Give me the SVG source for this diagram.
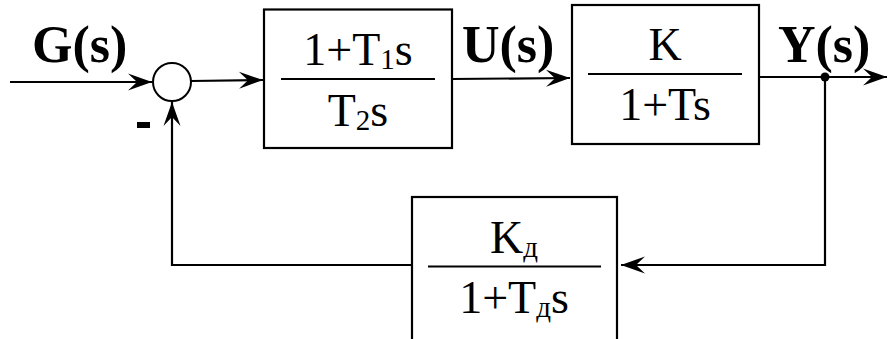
<svg xmlns="http://www.w3.org/2000/svg" width="889" height="339" viewBox="0 0 889 339">
<style>
.ln{stroke:#000;stroke-width:2.2;fill:none}
.box{stroke:#000;stroke-width:2.2;fill:#fff}
.t{font-family:"Liberation Serif","Times New Roman",serif;font-size:46px;fill:#000}
.sub{font-size:29px}
.b{font-family:"Liberation Serif","Times New Roman",serif;font-size:52px;font-weight:bold;fill:#000}
</style>
<defs>
<marker id="ah" markerUnits="userSpaceOnUse" markerWidth="30" markerHeight="20" viewBox="-26 -10 30 20" refX="0" refY="0" orient="auto">
<path d="M0,0 L-24,-8.5 L-15,0 L-24,8.5 Z" fill="#000"/>
</marker>
</defs>
<g id="connectors">
<line class="ln" x1="10" y1="82" x2="152" y2="82" marker-end="url(#ah)"/>
<line class="ln" x1="191" y1="81" x2="263" y2="80" marker-end="url(#ah)"/>
<line class="ln" x1="452" y1="79" x2="570" y2="78" marker-end="url(#ah)"/>
<line class="ln" x1="759" y1="77" x2="887" y2="77" marker-end="url(#ah)"/>
<polyline class="ln" points="825,77 825,265 621,265" marker-end="url(#ah)"/>
<polyline class="ln" points="412,265 172,265 172,102" marker-end="url(#ah)"/>
<circle cx="825" cy="77" r="4.5" fill="#000"/>
</g>
<g id="sum">
<circle cx="172" cy="82" r="19" fill="#fff" stroke="#000" stroke-width="2"/>
<rect x="137" y="122" width="13" height="6" fill="#000"/>
</g>
<g id="labels">
<text class="b" x="32" y="62">G(s)</text>
<text class="b" x="462" y="62">U(s)</text>
<text class="b" x="778" y="62">Y(s)</text>
</g>
<g id="block1">
<rect class="box" x="264" y="9.5" width="188" height="138.5"/>
<line class="ln" x1="281" y1="79" x2="435" y2="79"/>
<text class="t" x="358" y="65" text-anchor="middle">1+T<tspan class="sub" dy="4">1</tspan><tspan dy="-4">s</tspan></text>
<text class="t" x="358" y="126" text-anchor="middle">T<tspan class="sub" dy="4">2</tspan><tspan dy="-4">s</tspan></text>
</g>
<g id="block2">
<rect class="box" x="572" y="5" width="187" height="139"/>
<line class="ln" x1="588" y1="74" x2="742" y2="74"/>
<text class="t" x="665" y="60" text-anchor="middle">K</text>
<text class="t" x="665" y="120" text-anchor="middle">1+Ts</text>
</g>
<g id="block3">
<rect class="box" x="412" y="197" width="205" height="160"/>
<line class="ln" x1="428" y1="266.5" x2="601" y2="266.5"/>
<text class="t" x="514" y="253" text-anchor="middle">K<tspan class="sub" dy="4">д</tspan></text>
<text class="t" x="514" y="313" text-anchor="middle">1+T<tspan class="sub" dy="4">д</tspan><tspan dy="-4">s</tspan></text>
</g>
</svg>
